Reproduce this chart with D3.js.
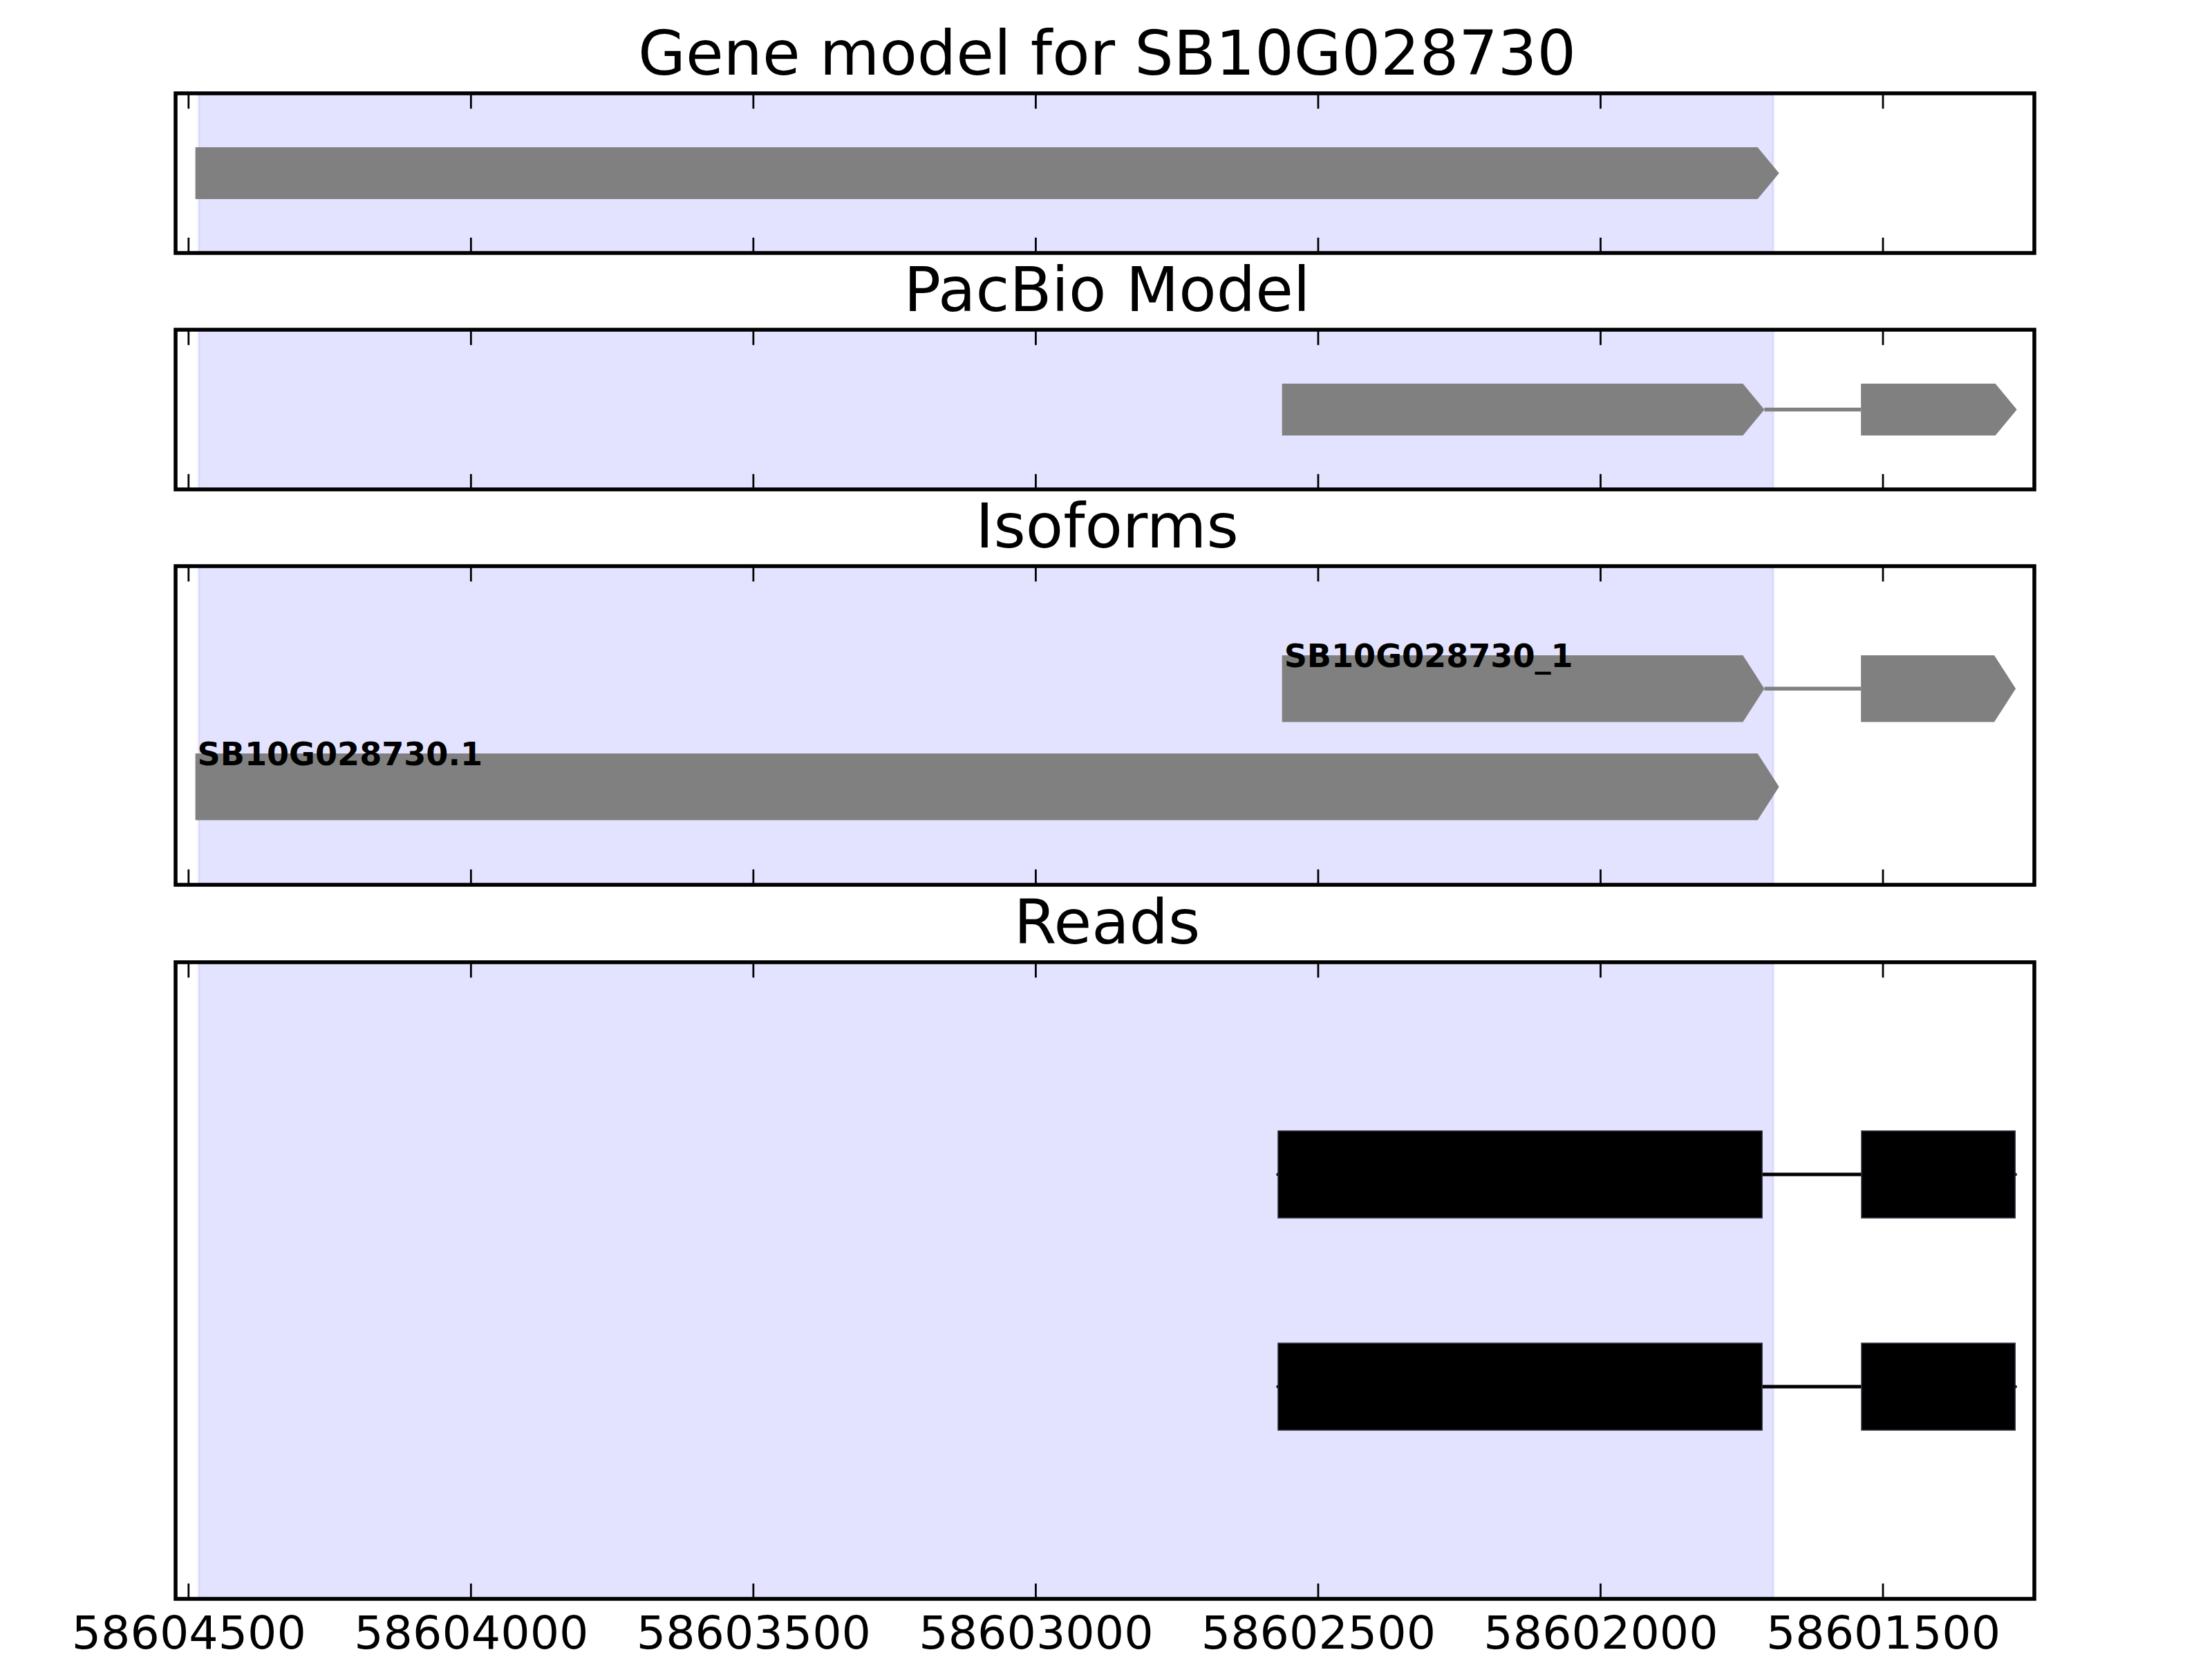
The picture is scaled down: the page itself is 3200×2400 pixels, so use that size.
<!DOCTYPE html>
<html><head><meta charset="utf-8">
<script src="https://cdn.jsdelivr.net/npm/d3@7"></script>
<style>html,body{margin:0;padding:0;background:#fff;}svg{display:block;}</style>
</head><body>
<script>
// ---------- data ----------
const panelTitles = ["Gene model for SB10G028730", "PacBio Model", "Isoforms", "Reads"];
const xTicks = [58604500, 58604000, 58603500, 58603000, 58602500, 58602000, 58601500];
const xLimits = [58604523, 58601232];
const highlightRegion = [58604482, 58601694];
const geneModelExons = [[58604488, 58601684]];
const pacbioExons = [[58602564, 58601710], [58601539, 58601263]];
const isoformNames = ["SB10G028730.1", "SB10G028730_1"];
const isoformRows = [1, 2];
const isoformExons = [
  [[58604488, 58601684]],
  [[58602564, 58601710], [58601539, 58601265]]
];
const readRows = [1, 2];
const readExons = [
  [[58602571, 58601714], [58601538, 58601266]],
  [[58602571, 58601714], [58601538, 58601266]]
];

// ---------- layout ----------
const W = 3200, H = 2400;
const left = 254, right = 2943;
const pt = 400 / 72;
const panels = [
  {top: 135, h: 231, ylim: [0, 2]},
  {top: 477, h: 231, ylim: [0, 2]},
  {top: 819, h: 461, ylim: [0, 3.25]},
  {top: 1392, h: 921, ylim: [0, 3]}
];
const FONT = "'DejaVu Sans', sans-serif";
const headLen = 38;
const gray = "#808080";

const svg = d3.select("body").append("svg").attr("width", W).attr("height", H)
  .style("background", "#fff");

const x = d3.scaleLinear().domain(xLimits).range([left, right]);

function arrowPts(s, e, yc, hh, y) {
  const hs = e + headLen;
  return [[x(s), y(yc + hh)], [x(hs), y(yc + hh)], [x(e), y(yc)], [x(hs), y(yc - hh)], [x(s), y(yc - hh)]];
}

panels.forEach((p, i) => {
  const g = svg.append("g");
  const y = d3.scaleLinear().domain(p.ylim).range([p.top + p.h, p.top]);
  const cid = "clip" + i;
  svg.append("clipPath").attr("id", cid).append("rect")
    .attr("x", left).attr("y", p.top).attr("width", right - left).attr("height", p.h);
  const inner = g.append("g").attr("clip-path", `url(#${cid})`);

  // highlight span
  inner.append("rect")
    .attr("x", x(highlightRegion[0])).attr("y", p.top)
    .attr("width", x(highlightRegion[1]) - x(highlightRegion[0])).attr("height", p.h)
    .attr("fill", "#0000ff").attr("fill-opacity", 0.11)
    .attr("stroke", "#0000ff").attr("stroke-opacity", 0.06).attr("stroke-width", 4);

  if (i === 0) {
    geneModelExons.forEach(ex => {
      inner.append("polygon").attr("points", arrowPts(ex[0], ex[1], 1, 0.325, y).map(d => d.join(",")).join(" "))
        .attr("fill", gray);
    });
  }
  if (i === 1) {
    for (let k = 0; k < pacbioExons.length - 1; k++) {
      inner.append("line").attr("x1", x(pacbioExons[k][1])).attr("x2", x(pacbioExons[k + 1][0]))
        .attr("y1", y(1)).attr("y2", y(1)).attr("stroke", gray).attr("stroke-width", 5.5);
    }
    pacbioExons.forEach(ex => {
      inner.append("polygon").attr("points", arrowPts(ex[0], ex[1], 1, 0.325, y).map(d => d.join(",")).join(" "))
        .attr("fill", gray);
    });
  }
  if (i === 2) {
    isoformExons.forEach((exs, r) => {
      const row = isoformRows[r];
      for (let k = 0; k < exs.length - 1; k++) {
        inner.append("line").attr("x1", x(exs[k][1])).attr("x2", x(exs[k + 1][0]))
          .attr("y1", y(row)).attr("y2", y(row)).attr("stroke", gray).attr("stroke-width", 5.5);
      }
      exs.forEach(ex => {
        inner.append("polygon").attr("points", arrowPts(ex[0], ex[1], row, 0.34, y).map(d => d.join(",")).join(" "))
          .attr("fill", gray);
      });
    });
    isoformExons.forEach((exs, r) => {
      inner.append("text").attr("x", x(exs[0][0]) + 3).attr("y", y(isoformRows[r] + 0.22))
        .attr("font-family", FONT).attr("font-weight", "bold").attr("font-size", 8.3 * pt)
        .attr("fill", "#000").text(isoformNames[r]);
    });
  }
  if (i === 3) {
    readExons.forEach((exs, r) => {
      const row = readRows[r];
      inner.append("line").attr("x1", x(exs[0][0])).attr("x2", x(exs[exs.length - 1][1]))
        .attr("y1", y(row)).attr("y2", y(row)).attr("stroke", "#000").attr("stroke-width", 5)
        .attr("stroke-linecap", "round");
      exs.forEach(ex => {
        inner.append("rect").attr("x", x(ex[0])).attr("width", x(ex[1]) - x(ex[0]))
          .attr("y", y(row + 0.205)).attr("height", y(row - 0.205) - y(row + 0.205))
          .attr("fill", "#000").attr("stroke", "#333344").attr("stroke-width", 1.5);
      });
    });
  }

  // ticks (inside, top and bottom)
  xTicks.forEach(t => {
    g.append("line").attr("x1", x(t)).attr("x2", x(t)).attr("y1", p.top + p.h).attr("y2", p.top + p.h - 4 * pt)
      .attr("stroke", "#000").attr("stroke-width", 0.5 * pt);
    g.append("line").attr("x1", x(t)).attr("x2", x(t)).attr("y1", p.top).attr("y2", p.top + 4 * pt)
      .attr("stroke", "#000").attr("stroke-width", 0.5 * pt);
  });

  // frame
  g.append("rect").attr("x", left).attr("y", p.top).attr("width", right - left).attr("height", p.h)
    .attr("fill", "none").attr("stroke", "#000").attr("stroke-width", 1 * pt);

  // title
  g.append("text").attr("x", (left + right) / 2 + 3).attr("y", p.top - 27)
    .attr("text-anchor", "middle").attr("font-family", FONT).attr("font-size", 16 * pt)
    .attr("fill", "#000").text(panelTitles[i]);
});

// x tick labels on bottom panel
const last = panels[panels.length - 1];
const axisG = svg.append("g").attr("transform", `translate(0,${last.top + last.h})`);
const xAxis = d3.axisBottom(x).tickValues(xTicks).tickFormat(d3.format("d")).tickSize(0).tickPadding(25);
axisG.call(xAxis);
axisG.select(".domain").remove();
axisG.selectAll("text").attr("font-family", FONT).attr("font-size", 12 * pt).attr("fill", "#000")
  .attr("dy", "0.71em");
</script>
</body></html>
